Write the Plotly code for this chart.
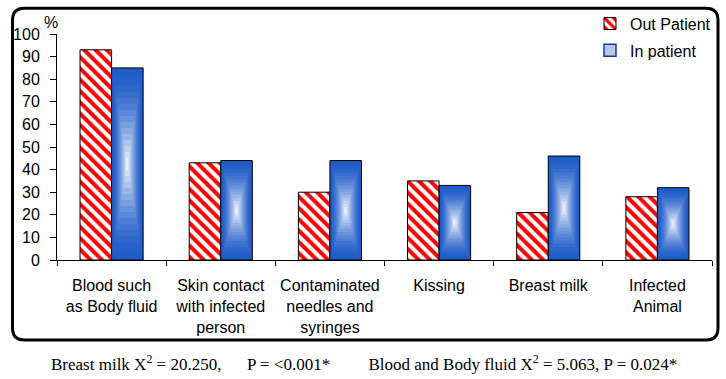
import plotly.graph_objects as go

categories = ["Blood such<br>as Body fluid", "Skin contact<br>with infected<br>person",
              "Contaminated<br>needles and<br>syringes", "Kissing", "Breast milk",
              "Infected<br>Animal"]
out_patient = [93, 43, 30, 35, 21, 28]
in_patient = [85, 44, 44, 33, 46, 32]
series_names = ["Out Patient", "In patient"]
footnote = ("Breast milk X<sup>2</sup> = 20.250," + "\u00a0" * 6 + "P = <0.001*" + "\u00a0" * 9 +
            "Blood and Body fluid X<sup>2</sup> = 5.063, P = 0.024*")

W = 0.289  # bar width in category units
FONT = "Liberation Sans, Arial, sans-serif"
FS = 16

fig = go.Figure()

# Out patient: red diagonal hatch
fig.add_trace(go.Bar(
    x=categories, y=out_patient, name=series_names[0],
    offset=-W, width=W,
    marker=dict(color="white", line=dict(color="black", width=1),
                pattern=dict(shape="\\", fgcolor="#ff0000", bgcolor="white",
                             fgopacity=1, size=8, solidity=0.5, fillmode="replace")),
    showlegend=True, legendgroup="a",
))

# In patient: rectangular "from center" gradient built from nested bars
N = 16
edge = (30, 92, 200)
for k in range(N):
    f = k / N
    t = f ** 1.6
    col = tuple(int(round(edge[i] + (255 - edge[i]) * t)) for i in range(3))
    fig.add_trace(go.Bar(
        x=categories,
        y=[v * (1 - f) for v in in_patient],
        base=[v * f / 2 for v in in_patient],
        offset=W * f / 2, width=W * (1 - f),
        marker=dict(color="rgb(%d,%d,%d)" % col,
                    line=dict(color="black", width=1 if k == 0 else 0)),
        showlegend=False, hoverinfo="skip" if k else None,
    ))

# legend entry for In patient
fig.add_trace(go.Bar(
    x=[None], y=[None], name=series_names[1],
    marker=dict(color="#b8c6ee", line=dict(color="#1a3a90", width=1.5)),
    showlegend=True, legendgroup="b",
))

# rounded frame (paper coords)
L, R, T, B = 57, 712, 34.3, 260
pw, ph = R - L, B - T
def px(x):
    return (x - L) / pw
def py(y):
    return (B - y) / ph
x0, x1, y0, y1 = px(12.5), px(718), py(340), py(8.5)
rx, ry = 12 / pw, 12 / ph
path = (f"M {x0},{y1-ry} Q {x0},{y1} {x0+rx},{y1} L {x1-rx},{y1} Q {x1},{y1} {x1},{y1-ry} "
        f"L {x1},{y0+ry} Q {x1},{y0} {x1-rx},{y0} L {x0+rx},{y0} Q {x0},{y0} {x0},{y0+ry} Z")
fig.add_shape(type="path", path=path, xref="paper", yref="paper",
              line=dict(color="black", width=3), layer="above")

fig.add_annotation(text="%", x=px(51), y=py(23), xref="paper", yref="paper",
                   xanchor="center", yanchor="middle",
                   showarrow=False, font=dict(family=FONT, size=FS, color="black"))
fig.add_annotation(text=footnote, x=px(364), y=py(363), xref="paper", yref="paper",
                   xanchor="center", yanchor="middle",
                   showarrow=False,
                   font=dict(family="Liberation Serif, Times New Roman, serif", size=17, color="black"))

fig.update_layout(
    width=726, height=379,
    margin=dict(l=L, r=726 - R, t=T, b=379 - B, autoexpand=False),
    barmode="overlay",
    paper_bgcolor="white", plot_bgcolor="white",
    font=dict(family=FONT, size=FS, color="black"),
    legend=dict(x=px(590), y=py(7), xanchor="left", yanchor="top",
                font=dict(family=FONT, size=FS, color="black"),
                bgcolor="rgba(0,0,0,0)", traceorder="grouped", tracegroupgap=3),
    xaxis=dict(showline=True, linecolor="black", linewidth=1, ticks="outside",
               tickson="boundaries", ticklen=5, tickcolor="black", ticklabelstandoff=11,
               showgrid=False, tickfont=dict(family=FONT, size=FS, color="black")),
    yaxis=dict(range=[0, 100], dtick=10, showline=True, linecolor="black", linewidth=1,
               ticks="outside", ticklen=6, tickcolor="black", showgrid=False, ticklabelstandoff=7,
               zeroline=False, tickfont=dict(family=FONT, size=FS, color="black")),
)

fig.write_html("out.html", config={"displayModeBar": False},
               post_script="document.body.style.margin='0';")
